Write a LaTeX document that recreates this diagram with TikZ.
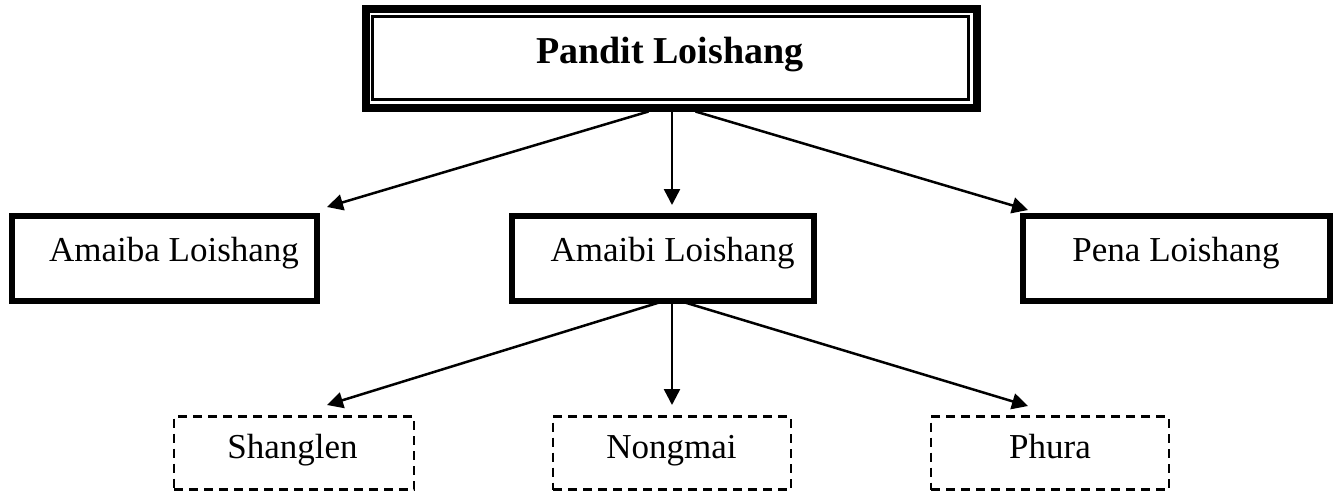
\documentclass[tikz,border=0pt]{standalone}
\usepackage{fontspec}
\setmainfont{Liberation Serif}
\usetikzlibrary{arrows.meta}
\tikzset{
  solidbox/.style={draw, line width=6.5pt, inner sep=0pt, outer sep=0pt},
  dashbox/.style={draw, line width=2.7pt, dash pattern=on 9pt off 6pt, inner sep=0pt, outer sep=0pt},
  lbl/.style={anchor=base, inner sep=0pt, font=\fontsize{35}{40}\selectfont},
  toplbl/.style={anchor=base, inner sep=0pt, font=\fontsize{38}{44}\selectfont\bfseries},
  arr/.style={line width=2.5pt, -{Triangle[length=16pt,width=16pt]}}
}
\begin{document}
\begin{tikzpicture}[x=1pt,y=-1pt]
\useasboundingbox (0,0) rectangle (1339,491);
% top box: thick outer + thin inner
\node[draw, line width=8pt, minimum width=611pt, minimum height=98.5pt, inner sep=0pt] (top) at (671.5,58.25) {};
\node[draw, line width=3pt, minimum width=596pt, minimum height=83pt, inner sep=0pt] (topin) at (670.5,58) {};
\node[toplbl] (toptxt) at (670,63) {Pandit Loishang};
% second level
\node[solidbox, minimum width=305pt, minimum height=85pt] (amaiba) at (164.5,258.5) {};
\node[solidbox, minimum width=302pt, minimum height=85pt] (amaibi) at (663,258.5) {};
\node[solidbox, minimum width=307pt, minimum height=85pt] (pena) at (1176.5,258.5) {};
\node[lbl] (amaibatxt) at (174,261) {Amaiba Loishang};
\node[lbl] (amaibitxt) at (672.5,261) {Amaibi Loishang};
\node[lbl] (penatxt) at (1176,261) {Pena Loishang};
% third level
\node[dashbox, minimum width=240pt, minimum height=73pt] (shang) at (294,453) {};
\node[dashbox, minimum width=238pt, minimum height=73pt] (nong) at (672,453) {};
\node[dashbox, minimum width=238pt, minimum height=73pt] (phura) at (1050,453) {};
\node[lbl] (shangtxt) at (292.5,458) {Shanglen};
\node[lbl] (nongtxt) at (671.5,458) {Nongmai};
\node[lbl] (phuratxt) at (1050,458) {Phura};
% arrow endpoints
\coordinate (t1) at (327,207);
\coordinate (t2) at (672,205);
\coordinate (t3) at (1028,210);
\coordinate (b1) at (327,405);
\coordinate (b2) at (672,405);
\coordinate (b3) at (1028,406);
\draw[arr] ([xshift=-23pt]top.south) -- (t1);
\draw[arr] ([xshift=0.5pt]top.south) -- (t2);
\draw[arr] ([xshift=24pt]top.south) -- (t3);
\draw[arr] ([xshift=1pt]amaibi.south) -- (b1);
\draw[arr] ([xshift=9pt]amaibi.south) -- (b2);
\draw[arr] ([xshift=17pt]amaibi.south) -- (b3);
\end{tikzpicture}
\end{document}
